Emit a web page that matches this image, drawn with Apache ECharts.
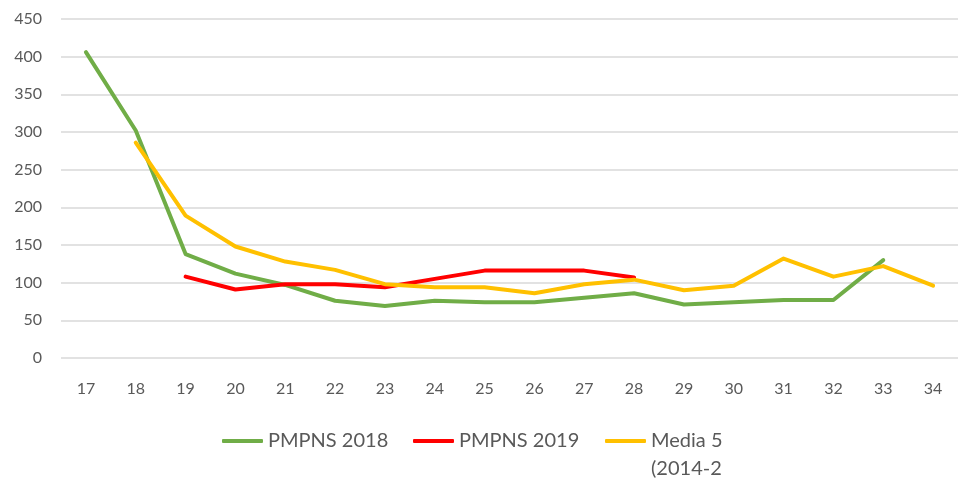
<!DOCTYPE html>
<html>
<head>
<meta charset="utf-8">
<script src="https://cdn.jsdelivr.net/npm/echarts@6/dist/echarts.min.js"></script>
<style>
  html, body { margin: 0; padding: 0; background: #fff; }
  #chart { width: 958px; height: 479px; }
</style>
</head>
<body>
<div id="chart"></div>
<script>
// 数据
const categories = ['17', '18', '19', '20', '21', '22', '23', '24', '25', '26', '27', '28', '29', '30', '31', '32', '33', '34']
const pmpns2018 = [406, 302, 138, 112, 97, 76, 69, 76, 74, 74, 80, 86, 71, 74, 77, 77, 130, null]
const pmpns2019 = [null, null, 108, 91, 98, 98, 94, 105, 116, 116, 116, 107, null, null, null, null, null, null]
const media5 = [null, 286, 189, 148, 128, 117, 98, 94, 94, 86, 98, 104, 90, 96, 132, 108, 122, 96]

const seriesNames = ['PMPNS 2018', 'PMPNS 2019', 'Media 5 anni (2014-2018)']
const colors = ['#70ad47', '#ff0000', '#ffc000']

const textColor = '#595959'
const fontFamily = 'Lato, "Liberation Sans", sans-serif'

const legendBase = {
  orient: 'horizontal',
  icon: 'roundRect',
  itemWidth: 41,
  itemHeight: 4,
  itemGap: 0,
  padding: 0,
  selectedMode: false,
  textStyle: { color: textColor, fontSize: 20, fontFamily: fontFamily, lineHeight: 24 }
}

const chart = echarts.init(document.getElementById('chart'))

chart.setOption({
  animation: false,
  color: colors,
  grid: {
    left: 61,
    right: 0,
    top: 19,
    bottom: 121
  },
  legend: [
    Object.assign({}, legendBase, { left: 222, top: 429, data: [seriesNames[0]] }),
    Object.assign({}, legendBase, { left: 413, top: 429, data: [seriesNames[1]] }),
    Object.assign({}, legendBase, {
      left: 605,
      top: 399,
      data: [seriesNames[2]],
      // 图例文字被截断成两行，前面空一行让第一行和图标对齐
      formatter: (name) => '\n' + name.replace(' (', '\n('),
      textStyle: {
        color: textColor,
        fontSize: 20,
        fontFamily: fontFamily,
        lineHeight: 28,
        width: 80,
        overflow: 'truncate',
        ellipsis: ''
      }
    })
  ],
  xAxis: {
    type: 'category',
    data: categories,
    boundaryGap: true,
    axisLine: { show: false },
    axisTick: { show: false },
    axisLabel: {
      color: textColor,
      fontSize: 16,
      fontFamily: fontFamily,
      margin: 23,
      interval: 0
    }
  },
  yAxis: {
    type: 'value',
    min: 0,
    max: 450,
    interval: 50,
    axisLine: { show: false },
    axisTick: { show: false },
    axisLabel: {
      color: textColor,
      fontSize: 16,
      fontFamily: fontFamily,
      margin: 19
    },
    splitLine: {
      lineStyle: { color: '#d9d9d9', width: 1.5 }
    }
  },
  series: [
    { name: seriesNames[0], data: pmpns2018 },
    { name: seriesNames[1], data: pmpns2019 },
    { name: seriesNames[2], data: media5 }
  ].map((s) => ({
    type: 'line',
    name: s.name,
    data: s.data,
    showSymbol: false,
    symbol: 'none',
    lineStyle: { width: 4, cap: 'round', join: 'round' }
  }))
})
</script>
</body>
</html>
